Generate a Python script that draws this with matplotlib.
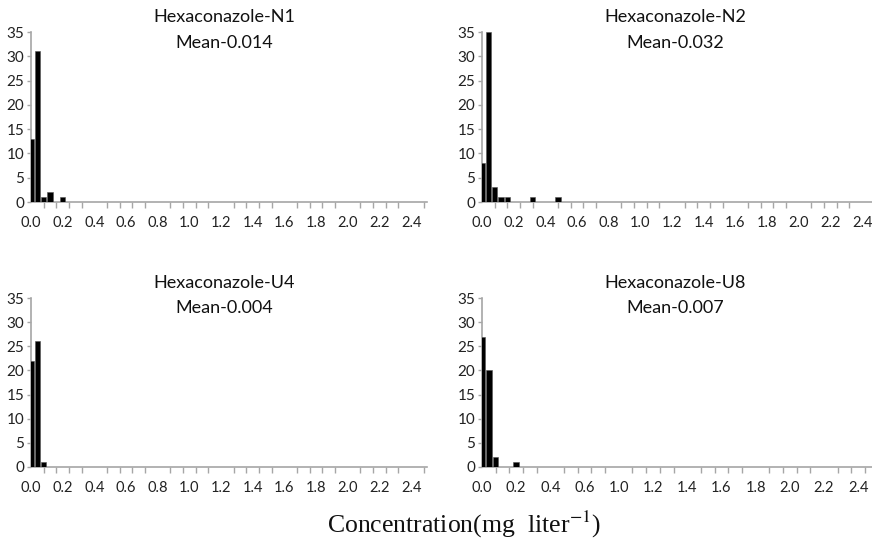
import matplotlib
matplotlib.use("Agg")
import matplotlib.pyplot as plt
import numpy as np

# ---- data ----
x_labels = ["0.0", "0.2", "0.4", "0.6", "0.8", "1.0", "1.2", "1.4", "1.6", "1.8", "2.0", "2.2", "2.4"]
x_labels_u8 = ["0.0", "0.2", "0.4", "0.6", "1.0", "1.2", "1.4", "1.6", "1.8", "2.0", "2.2", "2.4"]

n1_counts = [13, 31, 1, 2, 0, 1]
n2_counts = [8, 35, 3, 1, 1, 0, 0, 0, 1, 0, 0, 0, 1]
u4_counts = [22, 26, 1]
u8_counts = [27, 20, 2, 0, 0, 1]

titles = ["Hexaconazole-N1", "Hexaconazole-N2", "Hexaconazole-U4", "Hexaconazole-U8"]
means = ["Mean-0.014", "Mean-0.032", "Mean-0.004", "Mean-0.007"]

W, H = 872, 552
fig = plt.figure(figsize=(W / 100, H / 100), dpi=100)

SANS = ["Lato", "DejaVu Sans"]
AXIS_GREY = "#a6a6a6"


def px_axes(left, top, right, bottom):
    return fig.add_axes([left / W, 1 - bottom / H, (right - left) / W, (bottom - top) / H])


panels = [
    ((31, 32, 427, 202), n1_counts, x_labels, 62.5, (224, 17, 43)),
    ((482, 32, 878, 202), n2_counts, x_labels, 62.5, (675, 17, 43)),
    ((31, 298, 427, 467), u4_counts, x_labels, 62.5, (224, 283, 308)),
    ((482, 298, 878, 467), u8_counts, x_labels_u8, 57.9, (675, 283, 308)),
]

for i, (box, counts, labels, xmax, tpos) in enumerate(panels):
    ax = px_axes(*box)
    pos = np.arange(len(counts))
    ax.bar(pos, counts, width=0.82, color="black", edgecolor="#555555", linewidth=0.4, zorder=3)
    ax.set_xlim(0, xmax)
    ax.set_ylim(0, 35)
    ax.set_yticks(range(0, 36, 5))
    ax.set_xticks(np.arange(len(labels)) * 5)
    ax.set_xticklabels(labels, family=SANS, fontsize=10.5, color="#222222")
    ax.set_xticks(np.arange(0, xmax, 2), minor=True)
    for lab in ax.get_yticklabels():
        lab.set_family(SANS)
        lab.set_fontsize(11)
        lab.set_color("#222222")
    ax.tick_params(axis="x", which="major", length=0, pad=10)
    ax.tick_params(axis="x", which="minor", length=4, color=AXIS_GREY, width=1)
    ax.tick_params(axis="y", length=3, color=AXIS_GREY, width=1, pad=2)
    for s in ["top", "right"]:
        ax.spines[s].set_visible(False)
    for s in ["left", "bottom"]:
        ax.spines[s].set_color(AXIS_GREY)
        ax.spines[s].set_linewidth(1.2)
    cx, y1, y2 = tpos
    fig.text(cx / W, 1 - y1 / H, titles[i], ha="center", va="center",
             family=SANS, fontsize=13, color="#111111")
    fig.text(cx / W, 1 - y2 / H, means[i], ha="center", va="center",
             family=SANS, fontsize=13, color="#111111")

fig.text(464 / W, 1 - 524 / H, r"Concentration(mg  liter$^{-1}$)", ha="center", va="center",
         family=["Liberation Serif", "DejaVu Serif"], fontsize=18.5, color="#111111",
         math_fontfamily="stix")

fig.savefig("out.png", dpi=100)
